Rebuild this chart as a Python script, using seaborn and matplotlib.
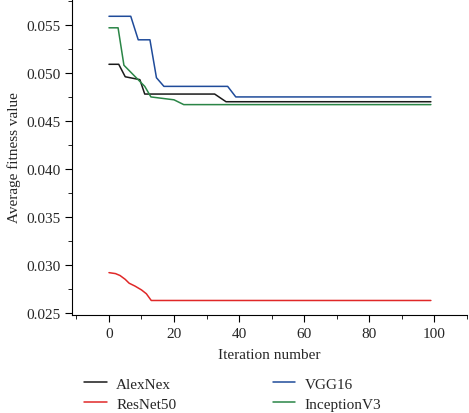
import numpy as np
import pandas as pd
import seaborn as sns
import matplotlib.pyplot as plt
from matplotlib.ticker import MultipleLocator

# breakpoints (iteration, average fitness)
alex_iter = [0, 3, 5, 9.5, 11, 32.5, 36, 99]
alex_fit = [0.0509, 0.0509, 0.0496, 0.0493, 0.0478, 0.0478, 0.0470, 0.0470]

resnet_iter = [0, 2, 3.4, 5, 6.2, 8, 10, 11.5, 13, 99]
resnet_fit = [0.0292, 0.0291, 0.0289, 0.0285, 0.0281, 0.0278, 0.0274, 0.0270, 0.0263, 0.0263]

vgg_iter = [0, 6.7, 9, 12.6, 14.6, 16.9, 36.5, 39, 99]
vgg_fit = [0.0559, 0.0559, 0.05345, 0.05345, 0.0495, 0.0486, 0.0486, 0.0475, 0.0475]

incep_iter = [0, 2.8, 4.6, 11, 12.9, 20, 23, 99]
incep_fit = [0.0547, 0.0547, 0.0508, 0.0486, 0.0475, 0.0472, 0.0467, 0.0467]

models = ["AlexNex", "ResNet50", "VGG16", "InceptionV3"]
colors = ["#1a1a1a", "#e02828", "#1f4b9a", "#2a8546"]

rows = []
for name, xs, ys in zip(models,
                        [alex_iter, resnet_iter, vgg_iter, incep_iter],
                        [alex_fit, resnet_fit, vgg_fit, incep_fit]):
    for x, y in zip(xs, ys):
        rows.append({"Iteration": x, "Fitness": y, "Model": name})
df = pd.DataFrame(rows)

sns.set_style("ticks")
plt.rcParams["font.family"] = ["Liberation Serif", "DejaVu Serif"]

fig = plt.figure(figsize=(4.69, 4.14), dpi=100)
ax = fig.add_axes([0.154, 0.237, 0.841, 0.763])

sns.lineplot(data=df, x="Iteration", y="Fitness", hue="Model",
             palette=dict(zip(models, colors)), hue_order=models,
             linewidth=1.1, ax=ax, sort=False, estimator=None)

ax.set_xlim(-11.3, 110)
ax.set_ylim(0.0248, 0.0577)
ax.xaxis.set_major_locator(MultipleLocator(20))
ax.xaxis.set_minor_locator(MultipleLocator(10))
ax.yaxis.set_major_locator(MultipleLocator(0.005))
ax.yaxis.set_minor_locator(MultipleLocator(0.0025))
ax.yaxis.set_major_formatter(plt.FormatStrFormatter("%.3f"))
ax.tick_params(which="both", direction="out", labelsize=11, color="black")
ax.tick_params(which="major", length=5)
ax.tick_params(which="minor", length=3)
for s in ["top", "right"]:
    ax.spines[s].set_visible(False)
for s in ["left", "bottom"]:
    ax.spines[s].set_color("black")

ax.set_xlabel("Iteration number", fontsize=11, labelpad=6)
ax.set_ylabel("Average fitness value", fontsize=11, labelpad=4)

handles, labels = ax.get_legend_handles_labels()
ax.get_legend().remove()
fig.legend(handles, labels, loc="upper left", bbox_to_anchor=(0.15, 0.12),
           ncol=2, frameon=False, fontsize=11, handlelength=1.5,
           handletextpad=0.6, columnspacing=6.3, labelspacing=0.4)

fig.savefig("out.png", dpi=100)
